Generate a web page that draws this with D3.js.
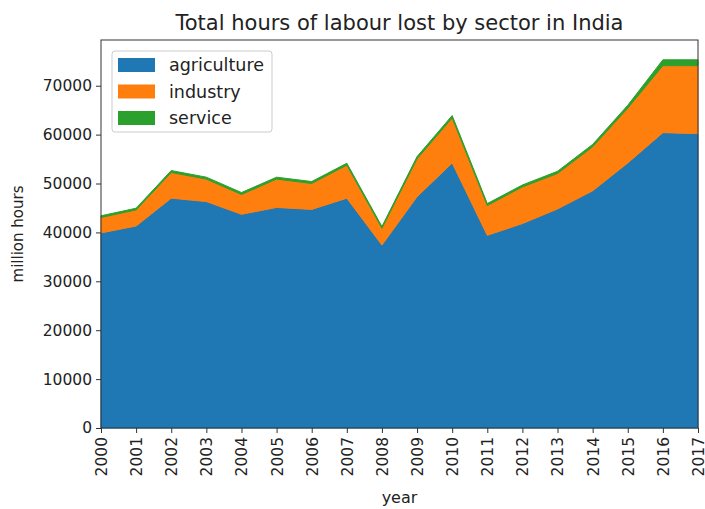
<!DOCTYPE html>
<html>
<head>
<meta charset="utf-8">
<script src="https://cdn.jsdelivr.net/npm/d3@7"></script>
<style>
  body { margin: 0; background: #fff; }
  svg text { font-family: "DejaVu Sans", sans-serif; fill: #222; }
</style>
</head>
<body>
<div id="chart"></div>
<script>
const years = [2000, 2001, 2002, 2003, 2004, 2005, 2006, 2007, 2008, 2009,
               2010, 2011, 2012, 2013, 2014, 2015, 2016, 2017];
const agriculture = [39900, 41300, 47000, 46300, 43700, 45100, 44700, 47000, 37400,
                     47300, 54200, 39400, 41800, 44800, 48500, 54200, 60400, 60200];
const industry = [3150, 3300, 5250, 4600, 4050, 5800, 5300, 6750, 3450,
                  7750, 9200, 6100, 7500, 7250, 9000, 11200, 13700, 13900];
const service = [350, 350, 400, 400, 400, 400, 400, 400, 350,
                 450, 500, 400, 400, 450, 500, 600, 1200, 1200];
const yTicks = [0, 10000, 20000, 30000, 40000, 50000, 60000, 70000];
const sectors = ["agriculture", "industry", "service"];
const colors = ["#1f77b4", "#ff7f0e", "#2ca02c"];

const W = 705, H = 509;
const margin = { top: 40, right: 7, bottom: 81, left: 101 };
const width = W - margin.left - margin.right;
const height = H - margin.top - margin.bottom;

const svg = d3.select("#chart").append("svg")
  .attr("width", W).attr("height", H);

const g = svg.append("g")
  .attr("transform", `translate(${margin.left},${margin.top})`);

// table for stacking
const rows = years.map((yr, i) => ({
  year: yr, agriculture: agriculture[i], industry: industry[i], service: service[i]
}));
const series = d3.stack().keys(sectors)(rows);

const x = d3.scaleLinear().domain([years[0], years[years.length - 1]]).range([0, width]);
const y = d3.scaleLinear().domain([0, 79350]).range([height, 0]);
const color = d3.scaleOrdinal().domain(sectors).range(colors);

const area = d3.area()
  .x(d => x(d.data.year))
  .y0(d => y(d[0]))
  .y1(d => y(d[1]));

g.selectAll("path.layer").data(series).enter().append("path")
  .attr("class", "layer")
  .attr("d", area)
  .attr("fill", d => color(d.key))
  .attr("stroke", d => color(d.key))
  .attr("stroke-width", 1);

// axes
const yAxis = g.append("g").call(d3.axisLeft(y).tickValues(yTicks).tickSize(5).tickPadding(4).tickFormat(d3.format("d")));
const xAxis = g.append("g").attr("transform", `translate(0,${height})`)
  .call(d3.axisBottom(x).tickValues(years).tickSize(5).tickFormat(d3.format("d")));

[yAxis, xAxis].forEach(a => {
  a.select(".domain").remove();
  a.selectAll(".tick line").attr("stroke", "#333");
  a.selectAll(".tick text").style("font-size", "15.5px").attr("fill", "#222");
});

xAxis.selectAll(".tick text")
  .attr("transform", "rotate(-90)")
  .attr("text-anchor", "end")
  .attr("x", -9).attr("y", 0).attr("dy", "0.35em");

// frame
g.append("rect")
  .attr("width", width).attr("height", height)
  .attr("fill", "none").attr("stroke", "#333").attr("stroke-width", 1);

// title and labels
svg.append("text")
  .attr("x", margin.left + width / 2).attr("y", 30)
  .attr("text-anchor", "middle").style("font-size", "21px")
  .text("Total hours of labour lost by sector in India");

svg.append("text")
  .attr("x", margin.left + width / 2).attr("y", 503)
  .attr("text-anchor", "middle").style("font-size", "16px")
  .text("year");

svg.append("text")
  .attr("transform", `translate(23,${margin.top + height / 2}) rotate(-90)`)
  .attr("text-anchor", "middle").style("font-size", "15px")
  .text("million hours");

// legend
const legend = g.append("g").attr("transform", "translate(11,11)");
legend.append("rect")
  .attr("width", 160).attr("height", 81).attr("rx", 3)
  .attr("fill", "#fff").attr("fill-opacity", 0.85)
  .attr("stroke", "#ccc");
const item = legend.selectAll(".item").data(sectors).enter().append("g")
  .attr("transform", (d, i) => `translate(6,${7 + i * 26.5})`);
item.append("rect")
  .attr("width", 37).attr("height", 14)
  .attr("fill", d => color(d));
item.append("text")
  .attr("x", 51).attr("y", 13)
  .style("font-size", "17.5px")
  .text(d => d);
</script>
</body>
</html>
